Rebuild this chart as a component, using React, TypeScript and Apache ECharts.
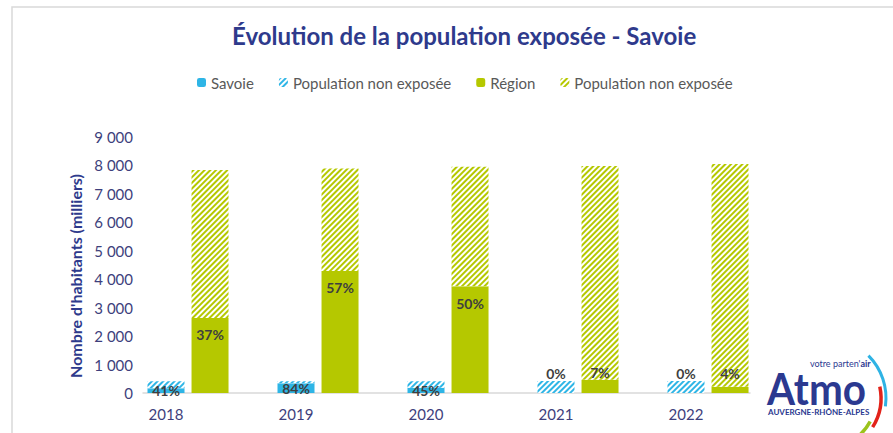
import React, { useEffect, useRef } from 'react';
import * as echarts from 'echarts';

const years = ['2018', '2019', '2020', '2021', '2022'];
const savoieExposed = [170, 345, 185, 0, 0];
const savoieNonExposed = [245, 65, 230, 420, 425];
const regionExposed = [2640, 4290, 3750, 470, 220];
const regionNonExposed = [5200, 3600, 4200, 7510, 7830];
const savoiePct = ['41%', '84%', '45%', '0%', '0%'];
const regionPct = ['37%', '57%', '50%', '7%', '4%'];
const legendNames = ['Savoie', 'Population non exposée', 'Région', 'Population non exposée '];

const CYAN = '#2EB5E6';
const GREEN = '#B5C800';
const NAVY = '#2E3A8C';
const AXIS_TXT = '#3E3F7C';
const FONT = 'Lato, "Noto Sans", sans-serif';

const hatch = (color: string) => ({
  symbol: 'rect',
  symbolSize: 1,
  color,
  backgroundColor: '#ffffff',
  dashArrayX: [1, 0],
  dashArrayY: [2, 1.8],
  rotation: -Math.PI / 4,
});

const labelBase = {
  show: true,
  fontSize: 14,
  fontWeight: 'bold' as const,
  color: '#3F3F3F',
  fontFamily: FONT,
};

const deg = (d: number) => (d * Math.PI) / 180;

export default function App() {
  const ref = useRef<HTMLDivElement>(null);
  useEffect(() => {
    if (!ref.current) return;
    const chart = echarts.init(ref.current, undefined, { renderer: 'svg' });

    const savoieData = savoieExposed.map((v, i) => ({
      value: v,
      label:
        i < 3
          ? { ...labelBase, position: 'inside', formatter: savoiePct[i] }
          : { ...labelBase, position: 'top', distance: 13, formatter: savoiePct[i] },
    }));
    const regionDist = [10, 10, 10, 0, 6];
    const regionData = regionExposed.map((v, i) => ({
      value: v,
      label:
        i < 3
          ? { ...labelBase, position: 'insideTop', distance: regionDist[i], formatter: regionPct[i] }
          : { ...labelBase, position: 'top', distance: regionDist[i], formatter: regionPct[i] },
    }));

    const barCommon = {
      type: 'bar',
      xAxisIndex: 1,
      yAxisIndex: 1,
      barWidth: 37,
      barGap: '19%',
    };

    chart.setOption({
      animation: false,
      backgroundColor: '#ffffff',
      title: {
        text: 'Évolution de la population exposée - Savoie',
        left: 232,
        top: 23,
        padding: 0,
        textStyle: { fontFamily: FONT, fontSize: 24, fontWeight: 'bold', color: NAVY },
      },
      legend: {
        data: legendNames,
        left: 192,
        top: 70,
        itemWidth: 9,
        itemHeight: 9,
        itemGap: 25,
        textStyle: { fontFamily: FONT, fontSize: 15, color: '#595959' },
      },
      grid: [
        { left: 143, right: 143, top: 137, bottom: 40 },
        { left: 101, right: 142, top: 137, bottom: 40 },
      ],
      xAxis: [
        {
          type: 'category',
          gridIndex: 0,
          data: years,
          axisLine: { show: true, lineStyle: { color: '#D9D9D9', width: 1.5 } },
          axisTick: { show: false },
          axisLabel: { show: false },
        },
        {
          type: 'category',
          gridIndex: 1,
          data: years,
          axisLine: { show: false },
          axisTick: { show: false },
          axisLabel: { fontFamily: FONT, fontSize: 15, color: AXIS_TXT, margin: 13 },
        },
      ],
      yAxis: [
        {
          type: 'value',
          gridIndex: 0,
          min: 0,
          max: 9000,
          interval: 1000,
          name: "Nombre d'habitants (milliers)",
          nameLocation: 'middle',
          nameGap: 60,
          nameTextStyle: {
            fontFamily: FONT,
            fontSize: 16,
            fontWeight: 'bold',
            color: NAVY,
            padding: [0, 22, 0, 0],
          },
          axisLine: { show: false },
          axisTick: { show: false },
          splitLine: { show: false },
          axisLabel: {
            fontFamily: FONT,
            fontSize: 15,
            color: AXIS_TXT,
            margin: 10,
            formatter: (v: number) => (v === 0 ? '0' : `${v / 1000} 000`),
          },
        },
        { type: 'value', gridIndex: 1, min: 0, max: 9000, interval: 1000, show: false },
      ],
      series: [
        { ...barCommon, name: 'pad', stack: 'pad', data: years.map(() => '-') },
        {
          ...barCommon,
          name: legendNames[0],
          stack: 'savoie',
          itemStyle: { color: CYAN },
          data: savoieData,
        },
        {
          ...barCommon,
          name: legendNames[1],
          stack: 'savoie',
          itemStyle: { color: '#ffffff', decal: hatch(CYAN) },
          data: savoieNonExposed,
        },
        {
          ...barCommon,
          name: legendNames[2],
          stack: 'region',
          itemStyle: { color: GREEN },
          data: regionData,
        },
        {
          ...barCommon,
          name: legendNames[3],
          stack: 'region',
          itemStyle: { color: '#ffffff', decal: hatch(GREEN) },
          data: regionNonExposed,
        },
      ],
      graphic: [
        {
          type: 'rect',
          silent: true,
          z: -10,
          shape: { x: 12, y: 7, width: 900, height: 440 },
          style: { fill: 'none', stroke: '#D9D9D9', lineWidth: 1.5 },
        },
        {
          type: 'arc',
          shape: { cx: 826, cy: 398, r: 60, startAngle: deg(-45), endAngle: deg(8) },
          style: { stroke: '#2FB3E4', lineWidth: 3, fill: 'none' },
        },
        {
          type: 'arc',
          shape: { cx: 826, cy: 398, r: 55, startAngle: deg(-12), endAngle: deg(32) },
          style: { stroke: '#E2231A', lineWidth: 3.5, fill: 'none' },
        },
        {
          type: 'arc',
          shape: { cx: 826, cy: 398, r: 50, startAngle: deg(28), endAngle: deg(64) },
          style: { stroke: '#9BC31C', lineWidth: 3.5, fill: 'none' },
        },
        {
          type: 'arc',
          shape: { cx: 826, cy: 398, r: 60, startAngle: deg(38), endAngle: deg(85) },
          style: { stroke: '#F39200', lineWidth: 3.5, fill: 'none' },
        },
        {
          type: 'text',
          x: 767,
          y: 388,
          scaleX: 0.92,
          style: {
            text: 'Atmo',
            fontFamily: FONT,
            fontSize: 44,
            lineHeight: 36,
            fontWeight: 'bold',
            fill: '#2B3990',
            textVerticalAlign: 'middle',
          },
        },
        {
          type: 'text',
          x: 810,
          y: 363,
          style: {
            text: "{a|votre parten'}{b|air}",
            textVerticalAlign: 'middle',
            rich: {
              a: { fontFamily: FONT, fontSize: 9, fill: '#2B3990', fontWeight: 'normal' },
              b: { fontFamily: FONT, fontSize: 9, fill: '#2B3990', fontWeight: 'bold' },
            },
          },
        },
        {
          type: 'text',
          x: 768,
          y: 412,
          style: {
            text: 'AUVERGNE-RHÔNE-ALPES',
            fontFamily: FONT,
            fontSize: 8,
            fontWeight: 'bold',
            fill: '#2B3990',
            textVerticalAlign: 'middle',
          },
        },
      ],
    });
    return () => chart.dispose();
  }, []);
  return (
    <div
      ref={ref}
      style={{ position: 'absolute', left: 0, top: 0, width: 893, height: 433 }}
    />
  );
}
